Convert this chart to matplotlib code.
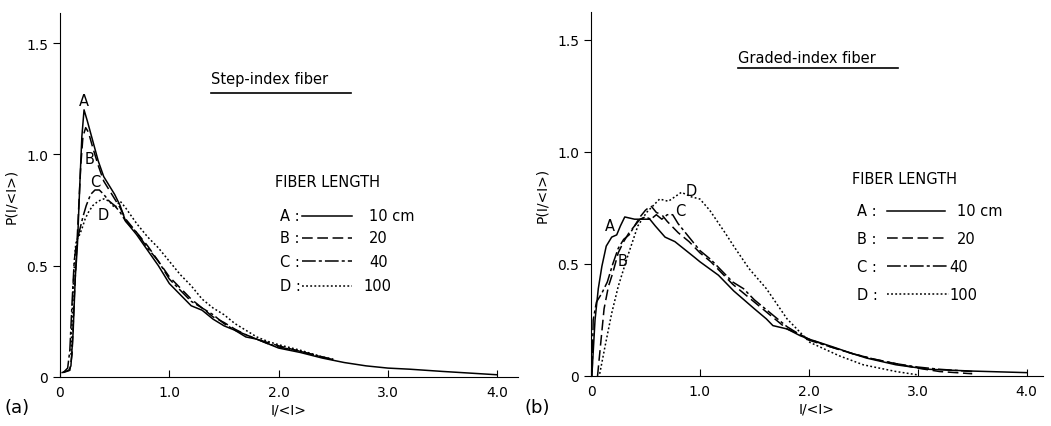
import numpy as np
import matplotlib.pyplot as plt

# step-index fiber, P(I/<I>)
step_a_x = [0.02, 0.08, 0.10, 0.12, 0.14, 0.15, 0.16, 0.18, 0.20, 0.22, 0.25, 0.30, 0.35, 0.40,
            0.45, 0.50, 0.55, 0.60, 0.70, 0.80, 0.90, 1.0, 1.1, 1.2, 1.3, 1.4, 1.5, 1.6, 1.7,
            1.8, 1.9, 2.0, 2.2, 2.4, 2.6, 2.8, 3.0, 3.2, 3.5, 4.0]
step_a_y = [0.02, 0.03, 0.05, 0.20, 0.45, 0.52, 0.60, 0.85, 1.08, 1.20, 1.15, 1.06, 0.97, 0.90,
            0.86, 0.82, 0.77, 0.70, 0.64, 0.57, 0.50, 0.42, 0.37, 0.32, 0.30, 0.26, 0.23, 0.21, 0.18,
            0.17, 0.15, 0.13, 0.11, 0.085, 0.065, 0.05, 0.04, 0.035, 0.025, 0.01]
step_b_x = [0.03, 0.09, 0.11, 0.13, 0.15, 0.17, 0.19, 0.21, 0.235, 0.26, 0.30, 0.35, 0.40, 0.45,
            0.50, 0.55, 0.60, 0.70, 0.80, 0.90, 1.0, 1.1, 1.2, 1.3, 1.4, 1.5, 1.6, 1.7, 1.8,
            1.9, 2.0, 2.2, 2.4, 2.5]
step_b_y = [0.02, 0.03, 0.10, 0.35, 0.55, 0.75, 0.95, 1.08, 1.12, 1.10, 1.03, 0.95, 0.88, 0.84,
            0.80, 0.76, 0.71, 0.65, 0.59, 0.52, 0.45, 0.40, 0.35, 0.31, 0.27, 0.245, 0.215, 0.19, 0.17,
            0.155, 0.14, 0.115, 0.09, 0.078]
step_c_x = [0.03, 0.07, 0.09, 0.11, 0.13, 0.15, 0.18, 0.21, 0.24, 0.28, 0.32, 0.36, 0.40, 0.45,
            0.50, 0.55, 0.60, 0.70, 0.80, 0.90, 1.0, 1.1, 1.2, 1.3, 1.4, 1.5, 1.6, 1.7, 1.8,
            1.9, 2.0, 2.2, 2.4, 2.5]
step_c_y = [0.02, 0.04, 0.12, 0.33, 0.52, 0.60, 0.66, 0.72, 0.77, 0.82, 0.84, 0.84, 0.82, 0.79,
            0.77, 0.74, 0.70, 0.65, 0.58, 0.52, 0.44, 0.39, 0.34, 0.31, 0.28, 0.24, 0.21, 0.19, 0.17,
            0.15, 0.135, 0.115, 0.09, 0.078]
step_d_x = [0.10, 0.12, 0.14, 0.15, 0.18, 0.20, 0.23, 0.26, 0.30, 0.35, 0.40, 0.45, 0.50, 0.55,
            0.60, 0.70, 0.80, 0.90, 1.0, 1.1, 1.2, 1.3, 1.4, 1.5, 1.6, 1.7, 1.8, 1.9, 2.0,
            2.2, 2.4, 2.5]
step_d_y = [0.10, 0.40, 0.58, 0.61, 0.64, 0.665, 0.71, 0.74, 0.77, 0.79, 0.80, 0.79, 0.76, 0.79,
            0.76, 0.69, 0.63, 0.58, 0.52, 0.46, 0.41, 0.35, 0.31, 0.28, 0.24, 0.21, 0.18, 0.16, 0.145,
            0.12, 0.09, 0.08]

# graded-index fiber
grad_a_x = [0.01, 0.037, 0.067, 0.10, 0.14, 0.19, 0.236, 0.27, 0.31, 0.40, 0.54, 0.59, 0.68,
            0.77, 0.95, 1.0, 1.17, 1.31, 1.5, 1.61, 1.67, 1.8, 1.92, 2.0, 2.22, 2.4, 2.53, 2.8,
            3.1, 3.5, 4.0]
grad_a_y = [0.02, 0.25, 0.39, 0.49, 0.58, 0.62, 0.63, 0.67, 0.71, 0.70, 0.70, 0.67, 0.62,
            0.60, 0.53, 0.51, 0.45, 0.38, 0.30, 0.255, 0.225, 0.21, 0.18, 0.165, 0.13, 0.10, 0.08, 0.05,
            0.03, 0.022, 0.015]
grad_b_x = [0.06, 0.08, 0.12, 0.16, 0.20, 0.25, 0.30, 0.35, 0.40, 0.45, 0.50, 0.55, 0.60, 0.65,
            0.70, 0.80, 0.90, 1.0, 1.1, 1.2, 1.3, 1.4, 1.5, 1.6, 1.7, 1.8, 1.9, 2.0, 2.2, 2.4,
            2.6, 2.8, 3.0, 3.2, 3.5]
grad_b_y = [0.0, 0.10, 0.30, 0.40, 0.46, 0.55, 0.60, 0.64, 0.67, 0.71, 0.74, 0.76, 0.73, 0.72,
            0.69, 0.64, 0.60, 0.55, 0.51, 0.46, 0.41, 0.37, 0.33, 0.29, 0.25, 0.21, 0.19, 0.165, 0.13, 0.10,
            0.075, 0.055, 0.035, 0.02, 0.01]
grad_c_x = [0.01, 0.02, 0.05, 0.10, 0.15, 0.20, 0.25, 0.30, 0.35, 0.40, 0.45, 0.50, 0.55, 0.60,
            0.65, 0.70, 0.75, 0.80, 0.90, 1.0, 1.1, 1.2, 1.3, 1.4, 1.5, 1.6, 1.7, 1.8, 1.9, 2.0,
            2.2, 2.4, 2.6, 2.8, 3.0, 3.2, 3.5]
grad_c_y = [0.0, 0.25, 0.33, 0.37, 0.42, 0.50, 0.57, 0.61, 0.63, 0.67, 0.70, 0.71, 0.70, 0.72,
            0.70, 0.72, 0.72, 0.68, 0.62, 0.56, 0.52, 0.47, 0.42, 0.39, 0.34, 0.30, 0.26, 0.22, 0.19, 0.16,
            0.13, 0.10, 0.075, 0.055, 0.04, 0.03, 0.02]
grad_d_x = [0.08, 0.13, 0.19, 0.25, 0.34, 0.43, 0.51, 0.63, 0.71, 0.83, 0.92, 1.0, 1.09, 1.23,
            1.31, 1.45, 1.61, 1.80, 2.01, 2.28, 2.50, 2.80, 3.0]
grad_d_y = [0.01, 0.135, 0.28, 0.40, 0.54, 0.67, 0.73, 0.79, 0.78, 0.82, 0.80, 0.79, 0.74, 0.64,
            0.58, 0.48, 0.39, 0.255, 0.15, 0.09, 0.05, 0.02, 0.005]

labels = ['A', 'B', 'C', 'D']
lengths = ['10 cm', '20', '40', '100']
styles = ['-', (0, (7, 3)), (0, (9, 2, 2, 2)), (0, (1.2, 1.5))]

fig = plt.figure(figsize=(10.51, 4.27), dpi=100)
ax1 = fig.add_axes([60 / 1051, 49 / 427, 458 / 1051, 364 / 427])
ax2 = fig.add_axes([591 / 1051, 50 / 427, 452 / 1051, 364 / 427])


def style_axes(ax, xmax, ymax):
    ax.set_xlim(0, xmax)
    ax.set_ylim(0, ymax)
    for s in ['top', 'right']:
        ax.spines[s].set_visible(False)
    ax.set_xticks([0, 1, 2, 3, 4])
    ax.set_xticklabels(['0', '1.0', '2.0', '3.0', '4.0'])
    ax.set_yticks([0, 0.5, 1.0, 1.5])
    ax.set_yticklabels(['0', '0.5', '1.0', '1.5'])
    ax.tick_params(axis='x', direction='in', length=5, labelsize=10, pad=6)
    ax.tick_params(axis='y', direction='out', length=5, labelsize=10)
    ax.set_xlabel('I/<I>', fontsize=10, labelpad=2)
    ax.set_ylabel('P(I/<I>)', fontsize=10, labelpad=6)


style_axes(ax1, 4.19, 1.635)
style_axes(ax2, 4.15, 1.625)

step = [(step_a_x, step_a_y), (step_b_x, step_b_y), (step_c_x, step_c_y), (step_d_x, step_d_y)]
grad = [(grad_a_x, grad_a_y), (grad_b_x, grad_b_y), (grad_c_x, grad_c_y), (grad_d_x, grad_d_y)]

for (x, y), ls in zip(step, styles):
    ax1.plot(x, y, color='black', lw=1.1, ls=ls)
for (x, y), ls in zip(grad, styles):
    ax2.plot(x, y, color='black', lw=1.1, ls=ls)

# curve labels
for lab, (tx, ty) in zip(labels, [(0.22, 1.24), (0.27, 0.98), (0.32, 0.88), (0.40, 0.73)]):
    ax1.text(tx, ty, lab, fontsize=10.5, ha='center', va='center')
for lab, (tx, ty) in zip(labels, [(0.17, 0.67), (0.29, 0.515), (0.82, 0.74), (0.92, 0.83)]):
    ax2.text(tx, ty, lab, fontsize=10.5, ha='center', va='center')

# titles with underline
ax1.text(1.38, 1.34, 'Step-index fiber', fontsize=10.5, va='center')
ax1.plot([1.38, 2.66], [1.276, 1.276], color='black', lw=1.2)
ax2.text(1.35, 1.424, 'Graded-index fiber', fontsize=10.5, va='center')
ax2.plot([1.35, 2.82], [1.375, 1.375], color='black', lw=1.2)

# legends
ax1.text(1.97, 0.876, 'FIBER LENGTH', fontsize=10.5, va='center')
for lab, ln, ls, yy in zip(labels, lengths, styles, [0.724, 0.625, 0.52, 0.41]):
    ax1.text(2.01, yy, lab + ' :', fontsize=10.5, va='center')
    ax1.plot([2.21, 2.67], [yy, yy], color='black', lw=1.1, ls=ls)
    ax1.text(2.83 if ln != '100' else 2.78, yy, ln, fontsize=10.5, va='center')

ax2.text(2.40, 0.88, 'FIBER LENGTH', fontsize=10.5, va='center')
for lab, ln, ls, yy in zip(labels, lengths, styles, [0.737, 0.616, 0.49, 0.366]):
    ax2.text(2.44, yy, lab + ' :', fontsize=10.5, va='center')
    ax2.plot([2.72, 3.25 if ln in ('10 cm', '20') else 3.29], [yy, yy], color='black', lw=1.1, ls=ls)
    ax2.text(3.36 if ln in ('10 cm', '20') else 3.29, yy, ln, fontsize=10.5, va='center')

fig.text(5 / 1051, 1 - 408 / 427, '(a)', fontsize=13, va='center')
fig.text(524 / 1051, 1 - 408 / 427, '(b)', fontsize=13, va='center')

fig.savefig('out.png', dpi=100)
